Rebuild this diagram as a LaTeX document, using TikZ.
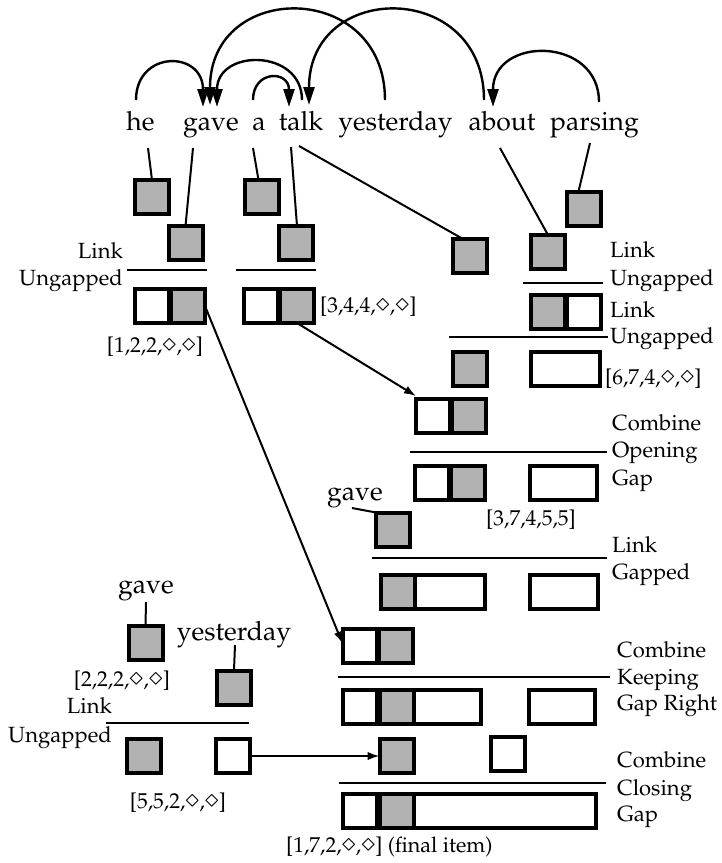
\documentclass[tikz,border=0pt]{standalone}
\usepackage[T1]{fontenc}
\usepackage{mathpazo}
\usepackage{graphicx}
\usetikzlibrary{arrows.meta,calc}
\tikzset{
 cellbox/.style={draw, line width=4pt, minimum height=34pt, inner sep=0pt, outer sep=0pt},
 gc/.style={cellbox, fill=gray!60, minimum width=34pt},
 wc/.style={cellbox, fill=white, minimum width=34pt},
 ww/.style={cellbox, fill=white, minimum width=#1},
 word/.style={font=\fontsize{26.5}{30}\selectfont, inner sep=0pt, anchor=base},
 lab/.style={font=\fontsize{22}{26}\selectfont, inner sep=0pt},
 idx/.style={font=\fontsize{21.5}{25}\selectfont, inner sep=0pt},
 rulel/.style={line width=2pt},
 conn/.style={line width=2pt},
 arr/.style={line width=2pt, -{Latex[length=12pt,width=8.5pt]}},
 arcarr/.style={line width=2.4pt, -{Triangle[length=18pt,width=11pt]}},
}
\newcommand{\dm}{\raisebox{0.5pt}{\scalebox{1.2}{$\diamond$}}}
\begin{document}
\begin{tikzpicture}[x=1pt,y=-1pt]
\useasboundingbox (0,0) rectangle (721,863);
% words
\node[word] (he) at (140.5,130) {he};
\node[word] (gave) at (211,130) {gave};
\node[word] (a) at (259,130) {a};
\node[word] (talk) at (301,130) {talk};
\node[word] (yest) at (395.5,130) {yesterday};
\node[word] (about) at (502,130) {about};
\node[word] (pars) at (594.5,130) {parsing};
% arc endpoints
\coordinate (a1s) at (136,100); \coordinate (a1e) at (203,107);
\coordinate (a2s) at (302,100); \coordinate (a2e) at (217,107);
\coordinate (a3s) at (253,100); \coordinate (a3e) at (289,107);
\coordinate (a4s) at (385,100); \coordinate (a4e) at (210,105);
\coordinate (a5s) at (484,100); \coordinate (a5e) at (309,105);
\coordinate (a6s) at (599,102); \coordinate (a6e) at (493,107);
\draw[arcarr] (a1s) .. controls (136,50) and (203,50) .. (a1e);
\draw[arcarr] (a2s) .. controls (302,48.5) and (217,48.5) .. (a2e);
\draw[arcarr] (a3s) .. controls (253,70) and (289,70) .. (a3e);
\draw[arcarr] (a4s) .. controls (385,-20) and (210,-20) .. (a4e);
\draw[arcarr] (a5s) .. controls (484,-20) and (309,-20) .. (a5e);
\draw[arcarr] (a6s) .. controls (599,36) and (493,36) .. (a6e);
% word bottoms
\coordinate (heb) at (148,148);
\coordinate (gaveb) at (193,148);
\coordinate (ab) at (253,148);
\coordinate (talkb) at (291,147);
\coordinate (talkd) at (299,146);
\coordinate (aboutb) at (500,148);
\coordinate (parsb) at (590,143);
% left top cells
\node[gc] (cA) at (152,197) {};
\node[gc] (cB) at (185.5,243) {};
\node[gc] (cC) at (261.5,197) {};
\node[gc] (cD) at (296,243) {};
\draw[conn] (heb) -- (cA.north);
\draw[conn] (gaveb) -- (cB.north);
\draw[conn] (ab) -- ([xshift=-3pt]cC.north);
\draw[conn] (talkb) -- ([xshift=1pt]cD.north);
\draw[rulel] (127,270) -- (207,270);
\draw[rulel] (236,270) -- (316,270);
\node[wc] (p1w) at (152,306) {};
\node[gc] (p1g) at (188,306) {};
\node[wc] (p2w) at (261,306) {};
\node[gc] (p2g) at (297,306) {};
\node[lab, anchor=base east] (l1a) at (123,258) {Link};
\node[lab, anchor=base east] (l1b) at (123,285) {Ungapped};
\node[idx, anchor=base] (i1) at (155,352) {[1,2,2,\dm,\dm]};
\node[idx, anchor=base west] (i2) at (320,312) {[3,4,4,\dm,\dm]};
% right top
\node[gc] (pb) at (583.5,208.5) {};
\node[gc] (tb) at (470,256) {};
\node[gc] (ab2) at (548,252) {};
\draw[conn] (talkd) -- ([xshift=-7pt]tb.north);
\draw[conn] (aboutb) -- (ab2.north);
\draw[conn] (parsb) -- ([xshift=-5pt]pb.north);
\draw[rulel] (523,283) -- (603,283);
\node[gc] (qg) at (547.5,311.5) {};
\node[wc] (qw) at (583.5,311.5) {};
\node[lab, anchor=base west] (l2a) at (610,257) {Link};
\node[lab, anchor=base west] (l2b) at (610,285) {Ungapped};
\node[lab, anchor=base west] (l3a) at (610,317) {Link};
\node[lab, anchor=base west] (l3b) at (610,343) {Ungapped};
\draw[rulel] (449,337) -- (608,337);
\node[gc] (u1g) at (470,368.5) {};
\node[ww=69pt] (u1w) at (565.5,368.5) {};
\node[idx, anchor=base west] (i3) at (605,384) {[6,7,4,\dm,\dm]};
% combine opening gap
\node[wc] (s1w) at (433,416) {};
\node[gc] (s1g) at (469,416) {};
\draw[arr] (p2g.south) -- ([yshift=3pt]s1w.north west);
\draw[rulel] (410,452) -- (607,452);
\node[lab, anchor=base west] (l4a) at (612,430) {Combine};
\node[lab, anchor=base west] (l4b) at (612,457) {Opening};
\node[lab, anchor=base west] (l4c) at (612,485) {Gap};
\node[wc] (s2w) at (432,483) {};
\node[gc] (s2g) at (468,483) {};
\node[ww=67pt] (s2x) at (563.5,483) {};
\node[idx, anchor=base] (i4) at (531,525) {[3,7,4,5,5]};
% link gapped
\node[word] (gave2) at (355,500) {gave};
\coordinate (gave2b) at (352,508);
\node[gc] (gb) at (393,529.5) {};
\draw[conn] (gave2b) -- (gb.north west);
\draw[rulel] (372,558) -- (607,558);
\node[lab, anchor=base west] (l5a) at (612,552) {Link};
\node[lab, anchor=base west] (l5b) at (612,579) {Gapped};
\node[ww=70pt] (t1w) at (450,592) {};
\node[ww=68pt] (t1x) at (564,592) {};
\node[gc] (t1g) at (398,592) {};
% combine keeping gap right
\node[wc] (r1w) at (359.5,645.5) {};
\node[gc] (r1g) at (396,645.5) {};
\draw[arr] (p1g.east) -- ([yshift=2pt]r1w.west);
\draw[rulel] (338,677) -- (610,677);
\node[lab, anchor=base west] (l6a) at (617,657) {Combine};
\node[lab, anchor=base west] (l6b) at (617,684) {Keeping};
\node[lab, anchor=base west] (l6c) at (617,710) {Gap Right};
\node[wc] (v1w) at (360,706.5) {};
\node[ww=67pt] (v1x) at (447.5,706.5) {};
\node[gc] (v1g) at (397,706.5) {};
\node[ww=66pt] (v1y) at (562,706.5) {};
% combine closing gap
\node[gc] (w1g) at (396.5,756) {};
\node[wc] (w1w) at (508,754) {};
\draw[rulel] (339,783) -- (606,783);
\node[lab, anchor=base west] (l7a) at (617,767) {Combine};
\node[lab, anchor=base west] (l7b) at (617,795) {Closing};
\node[lab, anchor=base west] (l7c) at (617,821) {Gap};
\node[wc] (fw) at (360,811) {};
\node[ww=182pt] (fx) at (505,811) {};
\node[gc] (fg) at (397,811) {};
\node[idx, anchor=base west] (i5) at (286,852) {[1,7,2,\dm,\dm] (final item)};
% left bottom
\node[word] (gave3) at (146,593) {gave};
\coordinate (gave3b) at (146,602);
\node[gc] (lg) at (145.5,643) {};
\draw[conn] (gave3b) -- (lg.north);
\node[idx, anchor=base] (i6) at (122,686) {[2,2,2,\dm,\dm]};
\node[word] (yest2) at (234,640) {yesterday};
\coordinate (yest2b) at (235,645);
\node[gc] (ly) at (234,687.5) {};
\draw[conn] (yest2b) -- (ly.north);
\draw[rulel] (106,723) -- (249,723);
\node[lab, anchor=base east] (l8a) at (112,713) {Link};
\node[lab, anchor=base east] (l8b) at (112,742) {Ungapped};
\node[gc] (mg) at (143.5,756) {};
\node[wc] (mw) at (233,756) {};
\node[idx, anchor=base] (i7) at (178,808) {[5,5,2,\dm,\dm]};
\draw[arr] (mw.east) -- (w1g.west);
\end{tikzpicture}
\end{document}
